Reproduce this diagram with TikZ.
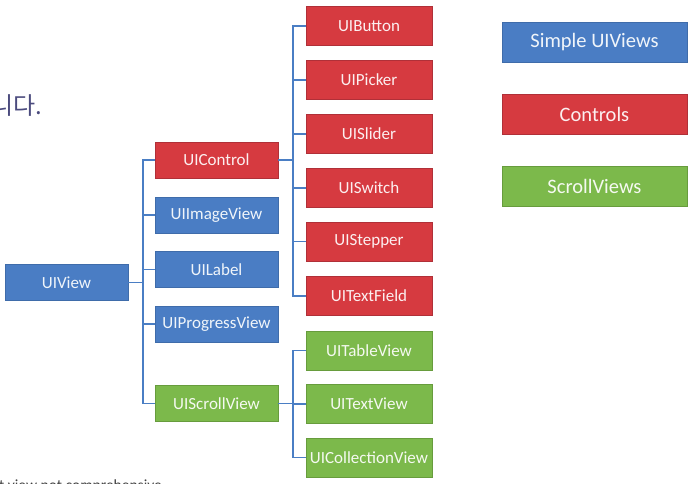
\documentclass[tikz,border=0pt]{standalone}
\usepackage{fontspec}
\setmainfont{Carlito}
\newfontfamily\krfont{Noto Sans CJK KR}
\definecolor{bfill}{HTML}{4A7DC4}
\definecolor{bdraw}{HTML}{3F6CAA}
\definecolor{rfill}{HTML}{D63A40}
\definecolor{rdraw}{HTML}{B03038}
\definecolor{gfill}{HTML}{7CB94B}
\definecolor{gdraw}{HTML}{679C3D}
\definecolor{lcol}{HTML}{4A7EC4}
\definecolor{krcol}{HTML}{4B4B7E}
\tikzset{
  ubox/.style={line width=0.8pt, minimum width=123pt, minimum height=36pt, inner sep=0pt,
    font=\fontsize{17}{20}\selectfont},
  bluebox/.style={ubox, draw=bdraw, fill=bfill, text=white!92!bfill},
  redbox/.style={ubox, draw=rdraw, fill=rfill, text=white!92!rfill, minimum width=126pt, minimum height=39pt},
  greenbox/.style={ubox, draw=gdraw, fill=gfill, text=white!92!gfill, minimum width=126pt, minimum height=39pt},
  legbox/.style={minimum width=185pt, minimum height=40pt, font=\fontsize{20.5}{24}\selectfont},
  conn/.style={draw=lcol, line width=1.8pt},
}
\begin{document}
\begin{tikzpicture}[x=1pt,y=-1pt]
\useasboundingbox (0,0) rectangle (697,484);
% level 1
\node[bluebox] (uiview) at (66.5,282.5) {UIView};
% level 2
\node[redbox, minimum width=123pt, minimum height=36pt] (uicontrol) at (216.5,160) {UIControl};
\node[bluebox] (uiimage) at (216.5,215) {UIImageView};
\node[bluebox] (uilabel) at (216.5,269.5) {UILabel};
\node[bluebox] (uiprog) at (216.5,324) {UIProgressView};
\node[greenbox, minimum width=123pt, minimum height=36pt] (uiscroll) at (216.5,403.5) {UIScrollView};
% level 3 controls
\node[redbox] (uibutton) at (369,26) {UIButton};
\node[redbox] (uipicker) at (369,80) {UIPicker};
\node[redbox] (uislider) at (369,134) {UISlider};
\node[redbox] (uiswitch) at (369,188) {UISwitch};
\node[redbox] (uistepper) at (369,241.5) {UIStepper};
\node[redbox] (uitextfield) at (369,296) {UITextField};
% level 3 scroll views
\node[greenbox] (uitable) at (369,350.5) {UITableView};
\node[greenbox] (uitextview) at (369,404) {UITextView};
\node[greenbox] (uicoll) at (369,457.5) {UICollectionView};
% legend
\node[bluebox, legbox] (legblue) at (594.5,42) {Simple UIViews};
\node[redbox, legbox] (legred) at (594.5,114) {Controls};
\node[greenbox, legbox] (leggreen) at (594.5,186) {ScrollViews};
% trunk coordinates
\coordinate (t1) at (143,282.5);
\coordinate (t2) at (293,160);
\coordinate (t3) at (293,403.5);
% connectors level 1 -> 2
\draw[conn] (uiview.east) -- (t1);
\draw[conn] (uicontrol.west) -| (t1 |- uicontrol.west) |- (uiscroll.west);
\draw[conn] (uiimage.west) -- (t1 |- uiimage.west);
\draw[conn] (uilabel.west) -- (t1 |- uilabel.west);
\draw[conn] (uiprog.west) -- (t1 |- uiprog.west);
% connectors UIControl -> controls
\draw[conn] (uicontrol.east) -- (t2);
\draw[conn] (uibutton.west) -- (t2 |- uibutton.west) |- (uitextfield.west);
\draw[conn] (uipicker.west) -- (t2 |- uipicker.west);
\draw[conn] (uislider.west) -- (t2 |- uislider.west);
\draw[conn] (uiswitch.west) -- (t2 |- uiswitch.west);
\draw[conn] (uistepper.west) -- (t2 |- uistepper.west);
% connectors UIScrollView -> scroll views
\draw[conn] (uiscroll.east) -- (t3);
\draw[conn] (uitable.west) -- (t3 |- uitable.west) |- (uicoll.west);
\draw[conn] (uitextview.west) -- (t3 |- uitextview.west);
% text fragments
\node[anchor=base west, inner sep=0pt, text=krcol, font=\krfont\fontsize{24}{28}\selectfont] (krtext) at (-9,115) {니다.};
\node[anchor=base west, inner sep=0pt, text=black!75, font=\fontsize{15.5}{18}\selectfont] (note) at (-1,490) {t view not comprehensive};
\end{tikzpicture}
\end{document}
